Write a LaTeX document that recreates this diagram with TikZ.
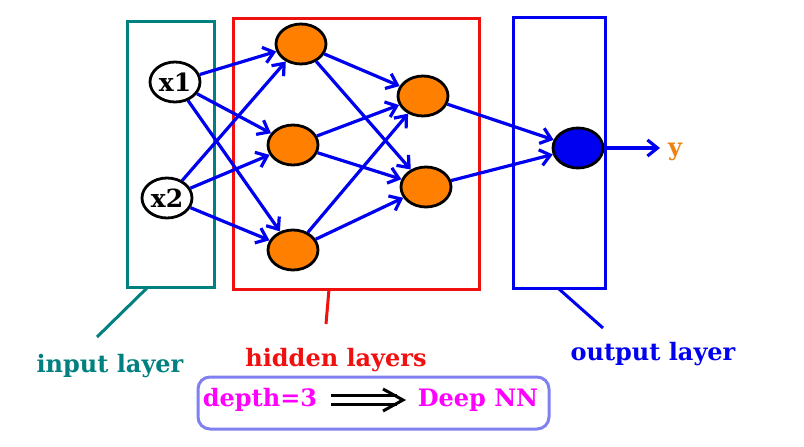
\documentclass[tikz,border=0pt]{standalone}
\usepackage{fontspec}
\setmainfont{DejaVu Serif}
\usetikzlibrary{shapes.geometric,arrows.meta}
\definecolor{teal1}{HTML}{008080}
\definecolor{red1}{HTML}{F01010}
\definecolor{blue1}{HTML}{0000F0}
\definecolor{orange1}{HTML}{FF8000}
\definecolor{ytext}{HTML}{F08010}
\definecolor{mag}{HTML}{FF00FF}
\definecolor{lilac}{HTML}{8080F0}
\tikzset{
  neuron/.style={ellipse, draw=black, line width=2.8pt, minimum width=50pt, minimum height=40pt, inner sep=0pt, font=\bfseries\fontsize{25}{27}\selectfont},
  hid/.style={neuron, fill=orange1},
  inp/.style={neuron, fill=white},
  outn/.style={neuron, fill=blue1},
  edge/.style={draw=blue1, line width=3.2pt, -{Straight Barb[length=10pt,width=16pt,line width=3.2pt]}},
  layerbox/.style={line width=3pt},
  lbl/.style={font=\bfseries\fontsize{24}{27}\selectfont},
}
\begin{document}
\begin{tikzpicture}[x=1pt,y=-1pt]
\useasboundingbox (0,0) rectangle (804,447);
% layer boxes
\draw[layerbox, teal1] (127,21) rectangle (214,287);
\draw[layerbox, red1] (233,18) rectangle (479,289);
\draw[layerbox, blue1] (513,17) rectangle (605,288);
% nodes
\node[inp] (x1) at (175,82) {x1};
\node[inp] (x2) at (167,198) {x2};
\node[hid] (a1) at (301,44) {};
\node[hid] (a2) at (293,145) {};
\node[hid] (a3) at (293,250) {};
\node[hid] (b1) at (423,96) {};
\node[hid] (b2) at (426,187) {};
\node[outn] (o) at (578,148) {};
\node[font=\bfseries\fontsize{24}{27}\selectfont, text=ytext, anchor=west, inner sep=0pt] (y) at (668,152) {y};
\coordinate (yend) at (660,148);
% edges
\foreach \s in {x1,x2}{\foreach \t in {a1,a2,a3}{\draw[edge] (\s) -- (\t);}}
\foreach \s in {a1,a2,a3}{\foreach \t in {b1,b2}{\draw[edge] (\s) -- (\t);}}
\foreach \s in {b1,b2}{\draw[edge] (\s) -- (o);}
\draw[edge] (o.east) -- (yend);
% labels
\node[lbl, text=teal1] (li) at (110,366) {input layer};
\node[lbl, text=red1] (lh) at (336,360) {hidden layers};
\node[lbl, text=blue1] (lo) at (653,354) {output layer};
\coordinate (ti) at (148,287);
\coordinate (th) at (329,289);
\coordinate (to) at (559,289);
\draw[teal1, line width=3pt] (ti) -- (97,337);
\draw[red1, line width=3pt] (th) -- (326,324);
\draw[blue1, line width=3pt] (to) -- (603,328);
% bottom box
\draw[lilac, line width=3pt, rounded corners=12pt] (198,377) rectangle (549,429);
\node[lbl, text=mag] (d) at (260,400) {depth=3};
\node[lbl, text=mag] (dn) at (478,400) {Deep NN};
\coordinate (da) at (331,400);
\coordinate (db) at (403,400);
\draw[black, line width=3pt] (331,395.5) -- (397,395.5) (331,404.5) -- (397,404.5);
\draw[black, line width=3pt] (383,389) -- (db) -- (383,411);
\end{tikzpicture}
\end{document}
